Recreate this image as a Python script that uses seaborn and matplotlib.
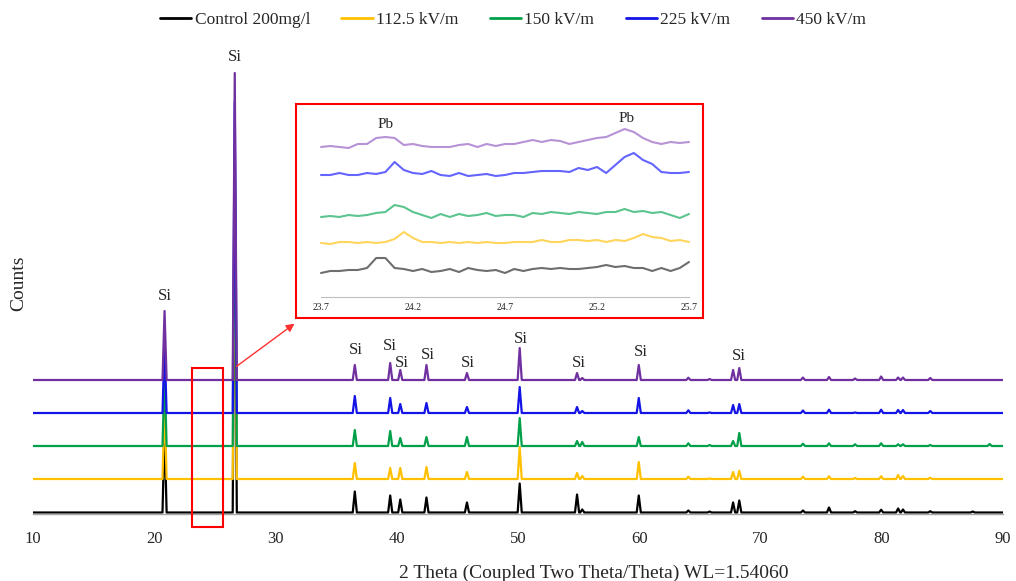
import numpy as np
import pandas as pd
import seaborn as sns
import matplotlib.pyplot as plt
from matplotlib.patches import Rectangle

# ---- data -----------------------------------------------------------------
series = ["Control 200mg/l", "112.5 kV/m", "150 kV/m", "225 kV/m", "450 kV/m"]
colors = ["#000000", "#FFC000", "#00A04A", "#1414E6", "#7030A0"]
inset_colors = ["#6E6E6E", "#FFD55C", "#5CC48E", "#6464FF", "#B792D6"]

# stacking offset of each pattern (counts)
baselines = [1.5, 35, 68, 101, 134]

# 2-theta positions of the reflections
peak_pos = [20.85, 26.64, 36.54, 39.46, 40.29, 42.45, 45.79, 50.14, 54.87, 55.30,
            59.96, 64.05, 65.80, 67.74, 68.25, 73.50, 75.65, 77.80, 79.95, 81.35,
            81.75, 84.00, 87.50, 88.90]

# peak heights above baseline for each pattern (counts)
h_control = [85, 320, 21, 17, 13, 15, 10, 29, 18, 3, 17, 2, 1, 10, 12, 2, 5, 1.3,
             2.7, 4, 3, 1.3, 1, 0]
h_112 = [80, 300, 16, 11, 11, 12, 7, 32, 6, 3, 17, 2.3, 0.5, 7, 8.3, 2.3, 2.7, 1,
         2.7, 4, 3, 1.3, 0, 0]
h_150 = [75, 300, 16, 15, 8, 9, 9, 28, 5, 4, 9, 2.7, 1, 5, 13, 2.3, 2.7, 1.7, 2.7,
         1.7, 1.7, 1, 0, 2]
h_225 = [70, 311, 17, 15, 9, 10, 6, 26, 6, 2, 15, 2.7, 0.5, 8, 9, 2.5, 3.3, 0.5,
         3.3, 3, 3, 2, 0, 0]
h_450 = [69, 307, 15, 17, 10, 15, 7, 32, 7, 2, 15, 2.3, 1, 10, 12, 2.5, 3, 1.5,
         3.5, 2.5, 2.5, 2, 0, 0]
heights = [h_control, h_112, h_150, h_225, h_450]

# zoomed region 23.7-25.7 deg (inset), counts sampled every 0.05 deg
inset_theta = [23.70, 23.75, 23.80, 23.85, 23.90, 23.95, 24.00, 24.05, 24.10, 24.15,
               24.20, 24.25, 24.30, 24.35, 24.40, 24.45, 24.50, 24.55, 24.60, 24.65,
               24.70, 24.75, 24.80, 24.85, 24.90, 24.95, 25.00, 25.05, 25.10, 25.15,
               25.20, 25.25, 25.30, 25.35, 25.40, 25.45, 25.50, 25.55, 25.60, 25.65,
               25.70]
inset_control = [24, 26, 26, 27, 27, 29, 39, 39, 29, 28, 26, 28, 25, 26, 28, 25, 29,
                 27, 26, 27, 24, 28, 26, 28, 29, 28, 29, 28, 28, 29, 30, 32, 30, 31,
                 29, 29, 26, 29, 26, 29, 35]
inset_112 = [54, 53, 55, 55, 54, 55, 54, 55, 58, 65, 59, 55, 55, 54, 55, 54, 55, 54,
             55, 54, 54, 55, 55, 55, 57, 55, 55, 57, 57, 56, 57, 55, 57, 56, 59, 63,
             60, 59, 56, 57, 55]
inset_150 = [80, 81, 80, 82, 81, 82, 84, 85, 92, 90, 85, 82, 79, 83, 80, 83, 81, 82,
             84, 81, 82, 82, 80, 84, 83, 85, 84, 83, 85, 84, 83, 85, 85, 88, 85, 86,
             84, 85, 82, 79, 83]
inset_225 = [122, 122, 124, 122, 122, 124, 123, 125, 135, 127, 124, 123, 126, 122,
             121, 124, 121, 122, 123, 121, 122, 124, 124, 125, 126, 126, 126, 125,
             129, 127, 130, 124, 132, 140, 144, 137, 133, 125, 124, 124, 125]
inset_450 = [150, 151, 150, 149, 153, 153, 159, 160, 159, 152, 153, 151, 150, 150,
             150, 152, 153, 150, 153, 151, 153, 153, 155, 157, 155, 157, 156, 153,
             155, 157, 159, 160, 164, 168, 165, 159, 155, 153, 155, 154, 155]
inset_counts = [inset_control, inset_112, inset_150, inset_225, inset_450]

inset_ticks = [23.7, 24.2, 24.7, 25.2, 25.7]

# ---- build long table of the main patterns ----------------------------------
half_w = 0.17
rows = []
for name, base, hs in zip(series, baselines, heights):
    rows.append((name, 10.0, base))
    for p, h in zip(peak_pos, hs):
        if h <= 0:
            continue
        rows.append((name, p - half_w, base))
        rows.append((name, p, base + h))
        rows.append((name, p + half_w, base))
    rows.append((name, 90.0, base))
df = pd.DataFrame(rows, columns=["series", "theta", "counts"])

ins = pd.DataFrame({
    "series": np.repeat(series, len(inset_theta)),
    "theta": inset_theta * len(series),
    "counts": np.concatenate(inset_counts),
})

# ---- figure -----------------------------------------------------------------
sns.set_style("white")
plt.rcParams["font.family"] = ["Liberation Serif", "DejaVu Serif"]

fig = plt.figure(figsize=(10.16, 5.81), dpi=100)
ax = fig.add_axes([33 / 1016, 67 / 581, 970 / 1016, 454 / 581])

sns.lineplot(data=df, x="theta", y="counts", hue="series", hue_order=series,
             palette=colors, sort=False, estimator=None, linewidth=1.6, ax=ax)

ax.set_xlim(10, 90)
ax.set_ylim(0, 454)
ax.set_xticks(range(10, 91, 10))
ax.set_yticks([])
ax.set_xlabel("")
ax.set_ylabel("")
for s in ["top", "right", "left"]:
    ax.spines[s].set_visible(False)
ax.spines["bottom"].set_color("#A6A6A6")
ax.spines["bottom"].set_linewidth(1)
ax.tick_params(axis="x", direction="out", length=4, width=1, color="#A6A6A6",
               pad=8, labelsize=12)

# Si labels
si_x = [20.85, 26.64, 36.6, 39.44, 40.4, 42.6, 45.9, 50.2, 55.0, 60.1, 68.2]
si_y = [218, 457, 164, 168, 151, 159, 151, 175, 151, 162, 158]
for x, y in zip(si_x, si_y):
    ax.text(x, y, "Si", ha="center", va="center", fontsize=12, clip_on=False)

# highlighted region + arrow to the inset
ax.add_patch(Rectangle((23.1, -13), 2.58, 159, fill=False, edgecolor="#FF0000",
                       linewidth=1.5, clip_on=False, zorder=5))
ax.annotate("", xy=(31.75, 192), xytext=(26.6, 146), annotation_clip=False,
            arrowprops=dict(arrowstyle="-|>", color="#FF3030", lw=1,
                            mutation_scale=12))

leg = ax.legend(loc="upper center", bbox_to_anchor=((513 - 33) / 970, 1 + 64 / 454),
                ncol=5, frameon=False, fontsize=12.5, handlelength=1.8,
                handletextpad=0.2, columnspacing=1.8)
for line in leg.get_lines():
    line.set_linewidth(2)

fig.text(19 / 1016, 1 - 283 / 581, "Counts", rotation=90, ha="center",
         va="center", fontsize=14)
fig.text(594 / 1016, 1 - 573 / 581, "2 Theta (Coupled Two Theta/Theta) WL=1.54060",
         ha="center", va="center", fontsize=14)

# ---- inset ------------------------------------------------------------------
axi = fig.add_axes([296 / 1016, 1 - 318 / 581, 407 / 1016, 214 / 581])
sns.lineplot(data=ins, x="theta", y="counts", hue="series", hue_order=series,
             palette=inset_colors, sort=False, estimator=None, linewidth=1.5,
             legend=False, ax=axi)
axi.set_xlim(23.7 - 25 / 184, 23.7 + 382 / 184)
axi.set_ylim(-21, 193)
axi.set_xlabel("")
axi.set_ylabel("")
axi.set_yticks([])
axi.set_xticks(inset_ticks)
axi.set_xticklabels([str(t) for t in inset_ticks])
for s in ["top", "right", "left"]:
    axi.spines[s].set_visible(False)
axi.spines["bottom"].set_position(("data", 0))
axi.spines["bottom"].set_bounds(23.7, 25.7)
axi.spines["bottom"].set_color("#BFBFBF")
axi.tick_params(axis="x", length=0, pad=4, labelsize=7)
axi.patch.set_alpha(0)
axi.add_patch(Rectangle((0, 0), 1, 1, transform=axi.transAxes, fill=False,
                        edgecolor="#FF0000", linewidth=1.5, clip_on=False))
axi.text(24.05, 173, "Pb", ha="center", va="center", fontsize=11)
axi.text(25.36, 179, "Pb", ha="center", va="center", fontsize=11)

fig.savefig("out.png", dpi=100)
